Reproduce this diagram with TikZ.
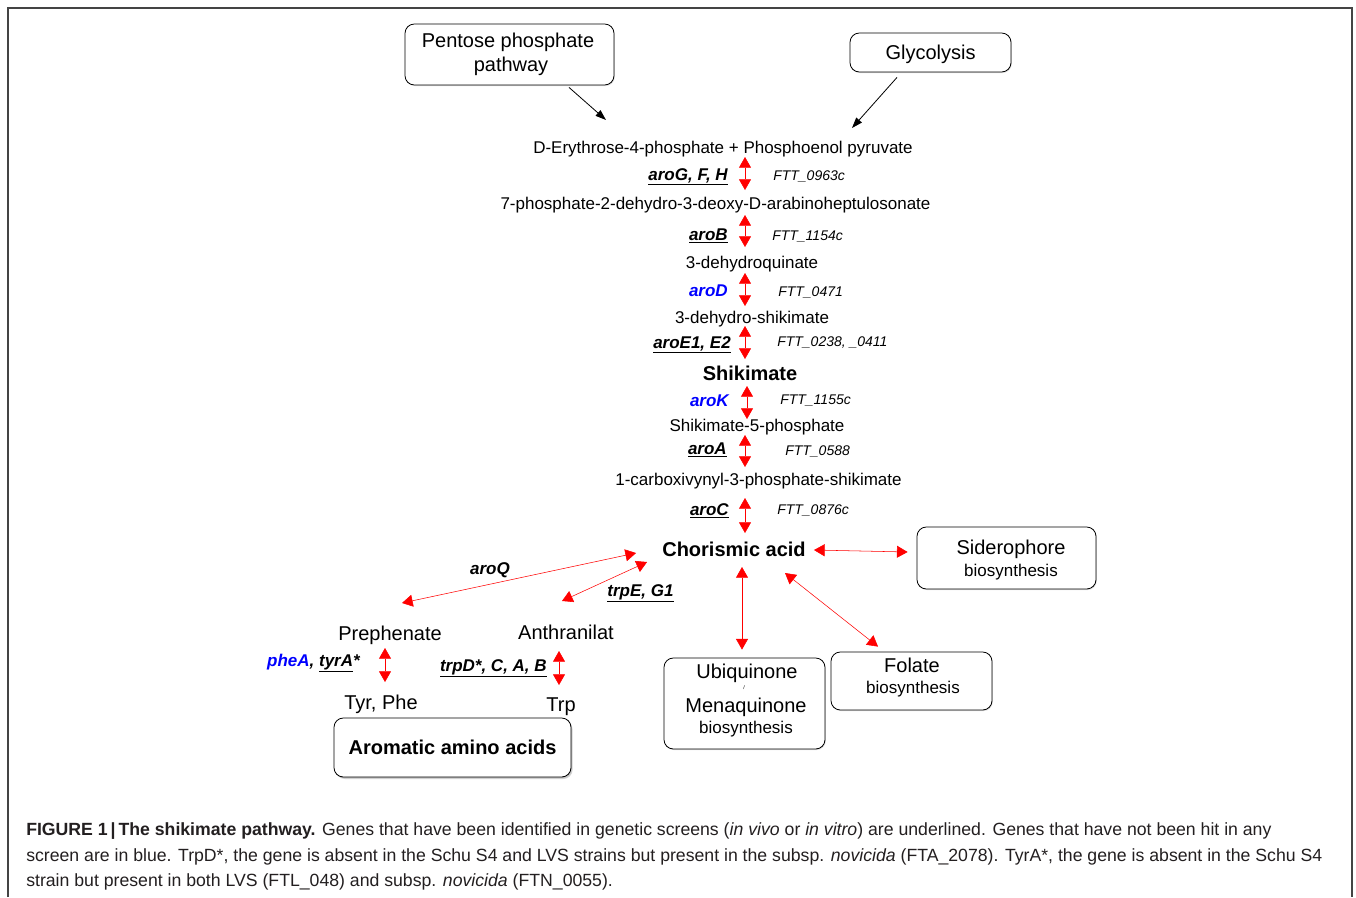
\documentclass[tikz,border=0pt]{standalone}
\usepackage{fontspec}
\setmainfont{Liberation Sans}
\usetikzlibrary{arrows.meta,calc,shadows}
\definecolor{capgray}{HTML}{231F20}
\definecolor{framegray}{HTML}{444444}
\definecolor{genblue}{HTML}{0000FF}
\definecolor{arrred}{HTML}{FF0000}
\newcommand{\fA}{\fontsize{12.75}{15}\selectfont}
\newcommand{\fB}{\fontsize{15}{18}\selectfont}
\newcommand{\fC}{\fontsize{10.5}{12}\selectfont}
\newcommand{\fCap}{\fontsize{13.25}{16}\selectfont}
\tikzset{
  txt/.style={font=\fA, inner sep=0pt, text height=9.1pt, text depth=0pt},
  bigb/.style={font=\fB\bfseries, inner sep=0pt, text height=10.7pt, text depth=0pt},
  sub/.style={font=\fB, inner sep=0pt, text height=10.7pt, text depth=0pt},
  gene/.style={font=\fA\bfseries\itshape, inner sep=0pt, text height=9.1pt, text depth=0pt, anchor=east},
  genec/.style={font=\fA\bfseries\itshape, inner sep=0pt, text height=9.1pt, text depth=0pt},
  ftt/.style={font=\fC\itshape, inner sep=0pt, text height=7.5pt, text depth=0pt, anchor=west},
  box/.style={draw=black, line width=0.6pt, rounded corners=7pt, align=center, inner sep=0pt, fill=white,
    drop shadow={opacity=0.25, shadow xshift=0.6pt, shadow yshift=-0.8pt}},
  dbl/.style={draw=arrred, line width=0.4pt, {Triangle[length=8pt,width=9pt]}-{Triangle[length=8pt,width=9pt]}},
  blk/.style={draw=black, line width=0.6pt, -{Triangle[length=8pt,width=5.5pt]}},
  captxt/.style={font=\fCap, text=capgray, inner sep=0pt, anchor=base west},
}
\begin{document}
\begin{tikzpicture}[x=0.75pt,y=-0.75pt]
\useasboundingbox (0,0) rectangle (1356,897);
\fill[white] (0,0) rectangle (1356,897);
\draw[framegray, line width=1.4pt] (8,897) -- (8,8) -- (1352,8) -- (1352,897);

% boxes
\node[box, minimum width=156.75pt, minimum height=45.75pt] (pent) at (509.5,54.5) {};
\node[sub] (pentA) at ($(pent.north)+(-1.5,17)$) {Pentose phosphate};
\node[sub] (pentB) at ($(pent.north)+(1.5,41)$) {pathway};
\node[box, sub, draw=black, inner sep=0pt, minimum width=120.75pt, minimum height=29.25pt] (gly) at (930.5,52.5) {Glycolysis};

% main column
\coordinate (ax) at (745,0);
\coordinate (ax2) at (747,0);
\node[txt] (ery) at (723,147) {D-Erythrose-4-phosphate + Phosphoenol pyruvate};
\node[txt] (dahp) at (715.5,203) {7-phosphate-2-dehydro-3-deoxy-D-arabinoheptulosonate};
\node[txt] (dhq) at (752,262) {3-dehydroquinate};
\node[txt] (dhs) at (752,317) {3-dehydro-shikimate};
\node[bigb] (shk) at (750,373) {Shikimate};
\node[txt] (s5p) at (757,425) {Shikimate-5-phosphate};
\node[txt] (cvs) at (758.5,479) {1-carboxivynyl-3-phosphate-shikimate};
\node[bigb] (cho) at (734,549) {Chorismic acid};

% black arrows
\draw[blk] ($(pent.south)+(59.5,2)$) -- ($(ery)+(-117,-27)$);
\draw[blk] ($(gly.south)+(-33.5,5)$) -- ($(ery)+(129,-19)$);

% red vertical arrows
\draw[dbl] ($(ery -| ax)+(0,10)$) -- ($(dahp -| ax)+(0,-13)$);
\draw[dbl] ($(dahp -| ax)+(0,12)$) -- ($(dhq -| ax)+(0,-15)$);
\draw[dbl] ($(dhq -| ax)+(0,11)$) -- ($(dhs -| ax)+(0,-11)$);
\draw[dbl] ($(dhs -| ax)+(0,9)$) -- ($(shk -| ax)+(0,-14)$);
\draw[dbl] ($(shk -| ax2)+(0,13)$) -- ($(s5p -| ax2)+(0,-6)$);
\draw[dbl] ($(s5p -| ax)+(0,10)$) -- ($(cvs -| ax)+(0,-12)$);
\draw[dbl] ($(cvs -| ax)+(0,19)$) -- ($(cho -| ax)+(0,-16)$);

% gene labels
\node[gene] (gG) at (728,174) {\underline{aroG, F, H}};
\node[gene] (gB) at (728,234) {\underline{aroB}};
\node[gene, text=genblue] (gD) at (728,290) {aroD};
\node[gene] (gE) at (731,342) {\underline{aroE1, E2}};
\node[gene, text=genblue] (gK) at (729,400) {aroK};
\node[gene] (gA) at (727,448) {\underline{aroA}};
\node[gene] (gC) at (729,509) {\underline{aroC}};

\node[ftt] (fG) at (773,175) {FTT\_0963c};
\node[ftt] (fB) at (772,235) {FTT\_1154c};
\node[ftt] (fD) at (778,291) {FTT\_0471};
\node[ftt] (fE) at (777,341) {FTT\_0238, \_0411};
\node[ftt] (fK) at (780,399) {FTT\_1155c};
\node[ftt] (fA) at (785,450) {FTT\_0588};
\node[ftt] (fC) at (777,509) {FTT\_0876c};

% side boxes
\node[box, minimum width=134.25pt, minimum height=46.5pt] (sid) at (1006.5,558) {};
\node[sub] (sidA) at ($(sid.north)+(4.5,21)$) {Siderophore};
\node[txt] (sidB) at ($(sid.north)+(4.5,44)$) {biosynthesis};
\node[box, minimum width=120.75pt, minimum height=43.5pt] (fol) at (911.5,681) {};
\node[sub] (folA) at ($(fol.north)+(0.5,14)$) {Folate};
\node[txt] (folB) at ($(fol.north)+(1.5,36)$) {biosynthesis};
\node[box, minimum width=120.75pt, minimum height=68.25pt] (ubi) at (744.5,703.5) {};
\node[sub] (ubiA) at ($(ubi.north)+(2.5,14)$) {Ubiquinone};
\node[font=\fontsize{4}{5}\selectfont, inner sep=0pt] (ubiS) at ($(ubi.north)+(-0.5,30)$) {/};
\node[sub] (ubiB) at ($(ubi.north)+(1.5,48)$) {Menaquinone};
\node[txt] (ubiC) at ($(ubi.north)+(1.5,70)$) {biosynthesis};
\node[box, font=\fB\bfseries, text height=10.7pt, text depth=0pt, minimum width=177.75pt, minimum height=44.25pt,
  drop shadow={opacity=0.35, shadow xshift=1.2pt, shadow yshift=-1.5pt}] (aro) at (452.5,747.5) {Aromatic amino acids};

% chorismic connectors
\draw[dbl] ($(cho.east)+(8,1)$) -- ($(sid.west)+(-9,-6)$);
\draw[dbl] ($(cho)+(8,18)$) -- ($(ubi.north)+(-2.5,-8)$);
\draw[dbl] ($(cho)+(51,24)$) -- ($(fol.north)+(-33.5,-5)$);

% branches
\node[sub] (pre) at (390,633) {Prephenate};
\node[sub] (ant) at (566,632) {Anthranilat};
\node[sub] (tyr) at (381,702) {Tyr, Phe};
\node[sub] (trp) at (561,704) {Trp};
\draw[dbl] ($(cho.west)+(-26,4)$) -- ($(pre)+(12,-30)$);
\draw[dbl] ($(cho.west)+(-15,13)$) -- ($(ant)+(-4,-31)$);
\node[genec] (gQ) at (490,568) {aroQ};
\node[genec] (gT) at (640.5,590) {\underline{trpE, G1}};
\draw[dbl] ($(pre)+(-5,15)$) -- ($(tyr)+(4,-20)$);
\draw[dbl] ($(ant)+(-7,19)$) -- ($(trp)+(-2,-19)$);
\node[gene] (gP) at (360,660) {\textcolor{genblue}{pheA}, \underline{tyrA}*};
\node[gene] (gTD) at (547,665) {\underline{trpD*, C, A, B}};

% caption
\node[captxt] (cap1) at (26,835) {\textbf{FIGURE 1\,|\,The shikimate pathway.} Genes that have been identified in genetic screens (\textit{in vivo} or \textit{in vitro}) are underlined. Genes that have not been hit in any};
\node[captxt] (cap2) at (26,861) {screen are in blue. TrpD*, the gene is absent in the Schu S4 and LVS strains but present in the subsp. \textit{novicida} (FTA\_2078). TyrA*, the gene is absent in the Schu S4};
\node[captxt] (cap3) at (26,886) {strain but present in both LVS (FTL\_048) and subsp. \textit{novicida} (FTN\_0055).};
\end{tikzpicture}
\end{document}
